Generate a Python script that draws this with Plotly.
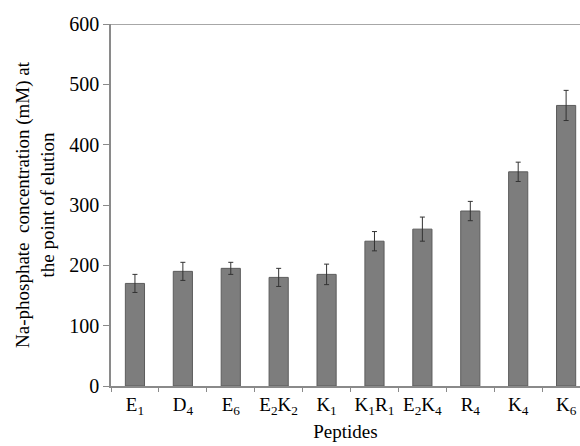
import plotly.graph_objects as go

categories = ["E<sub>1</sub>", "D<sub>4</sub>", "E<sub>6</sub>", "E<sub>2</sub>K<sub>2</sub>",
              "K<sub>1</sub>", "K<sub>1</sub>R<sub>1</sub>", "E<sub>2</sub>K<sub>4</sub>",
              "R<sub>4</sub>", "K<sub>4</sub>", "K<sub>6</sub>"]
values = [170, 190, 195, 180, 185, 240, 260, 290, 355, 465]
errors = [15, 15, 10, 15, 17, 16, 20, 16, 16, 25]
y_ticks = [0, 100, 200, 300, 400, 500, 600]

FONT = "Liberation Serif, Times New Roman, serif"

fig = go.Figure()
fig.add_trace(go.Bar(
    x=categories, y=values, width=0.4,
    marker=dict(color="#7d7d7d", line=dict(color="#5c5c5c", width=1)),
    error_y=dict(type="data", array=errors, visible=True, color="#333333", thickness=1, width=2.5),
))

fig.add_shape(type="line", xref="paper", yref="y", x0=0, x1=1, y0=600, y1=600,
              line=dict(color="#8a8a8a", width=1.5))

fig.update_layout(
    width=580, height=446,
    margin=dict(l=111, r=0, t=24, b=60),
    paper_bgcolor="white", plot_bgcolor="white",
    font=dict(family=FONT, color="black", size=19),
    showlegend=False,
)
fig.update_xaxes(
    type="category", range=[-0.5, 9.29], automargin=False,
    showline=True, linecolor="#8a8a8a", linewidth=1.5,
    ticks="outside", tickson="boundaries", ticklen=4, tickcolor="#8a8a8a",
    tickangle=0,
    tickfont=dict(size=19, family=FONT),
    title=dict(text="Peptides", font=dict(size=19, family=FONT), standoff=8),
    showgrid=False,
)
fig.update_yaxes(
    range=[0, 600], tickvals=y_ticks, automargin=False,
    showline=True, linecolor="#8a8a8a", linewidth=1.5,
    ticks="outside", ticklen=6, tickcolor="#8a8a8a",
    tickfont=dict(size=20, family=FONT),
    title=dict(text="Na-phosphate  concentration (mM) at<br>the point of elution",
               font=dict(size=19, family=FONT), standoff=10),
    showgrid=False, zeroline=False,
)

fig.write_html("out.html", config={"displayModeBar": False},
               post_script="document.body.style.margin='0';document.body.style.overflow='hidden';")
